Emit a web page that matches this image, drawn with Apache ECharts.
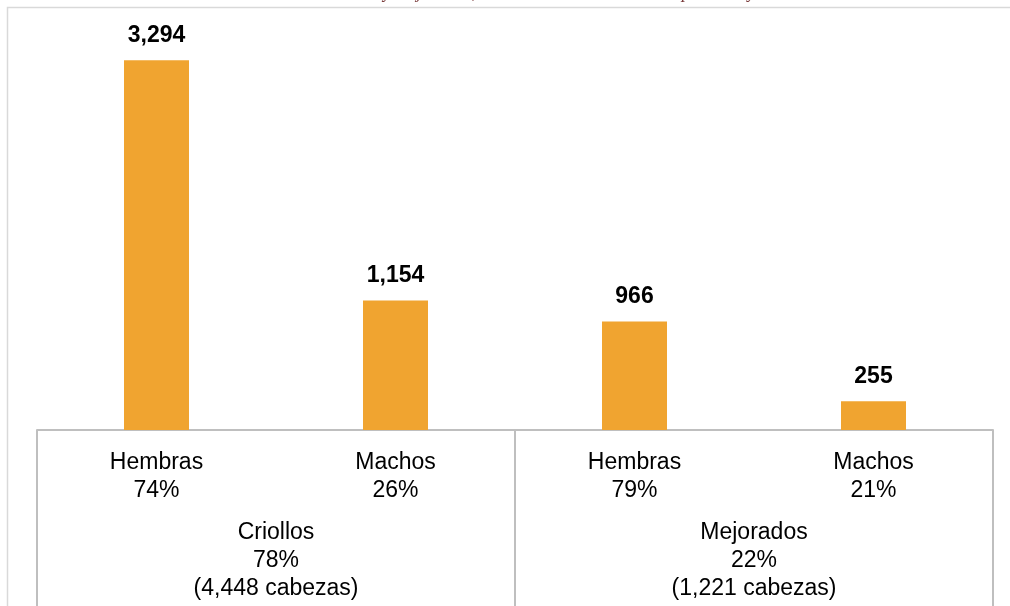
<!DOCTYPE html>
<html>
<head>
<meta charset="utf-8">
<script src="https://cdn.jsdelivr.net/npm/echarts@6/dist/echarts.min.js"></script>
<style>
html,body{margin:0;padding:0;background:#fff;}
#chart{width:1010px;height:606px;}
</style>
</head>
<body>
<div id="chart"></div>
<script>
const sexLabels = ['Hembras\n74%', 'Machos\n26%', 'Hembras\n79%', 'Machos\n21%'];
const breedLabels = ['Criollos\n78%\n(4,448 cabezas)', 'Mejorados\n22%\n(1,221 cabezas)'];
const headCounts = [3294, 1154, 966, 255];
const titleText = 'Cuadro N° 7: Criollos y mejorados, Población total de vacunos por raza y sexo';

const chart = echarts.init(document.getElementById('chart'));
const font = 'Liberation Sans, Arial, sans-serif';
chart.setOption({
  animation: false,
  backgroundColor: '#ffffff',
  graphic: [
    {type: 'rect', shape: {x: 7.5, y: 7.5, width: 1010, height: 620}, style: {fill: null, stroke: '#d9d9d9', lineWidth: 1.5}, z: 0},
    {type: 'text', x: 505, y: -16, style: {text: titleText, font: 'italic 18px Liberation Serif, serif', fill: '#7a3b3b', align: 'center', verticalAlign: 'top'}, z: 1}
  ],
  grid: {left: 37, right: 17, top: 37, bottom: 176},
  xAxis: [
    {
      type: 'category', data: sexLabels, position: 'bottom',
      axisLine: {show: true, lineStyle: {color: '#bfbfbf', width: 2}},
      axisTick: {show: false},
      axisLabel: {color: '#000', fontFamily: font, fontSize: 23, lineHeight: 28, margin: 19, interval: 0}
    },
    {
      type: 'category', data: breedLabels, position: 'bottom',
      axisLine: {show: false},
      axisTick: {show: true, length: 180, lineStyle: {color: '#bfbfbf', width: 2}},
      axisLabel: {color: '#000', fontFamily: font, fontSize: 23, lineHeight: 28, margin: 89, interval: 0}
    }
  ],
  yAxis: {type: 'value', min: 0, max: 3500, show: false, splitLine: {show: false}},
  series: [{
    type: 'bar', xAxisIndex: 0, data: headCounts, barWidth: 65,
    itemStyle: {color: '#f0a430'},
    label: {
      show: true, position: 'top', distance: 13, color: '#000',
      fontFamily: font, fontWeight: 'bold', fontSize: 23,
      formatter: p => p.value.toLocaleString('en-US')
    }
  }]
});
</script>
</body>
</html>
